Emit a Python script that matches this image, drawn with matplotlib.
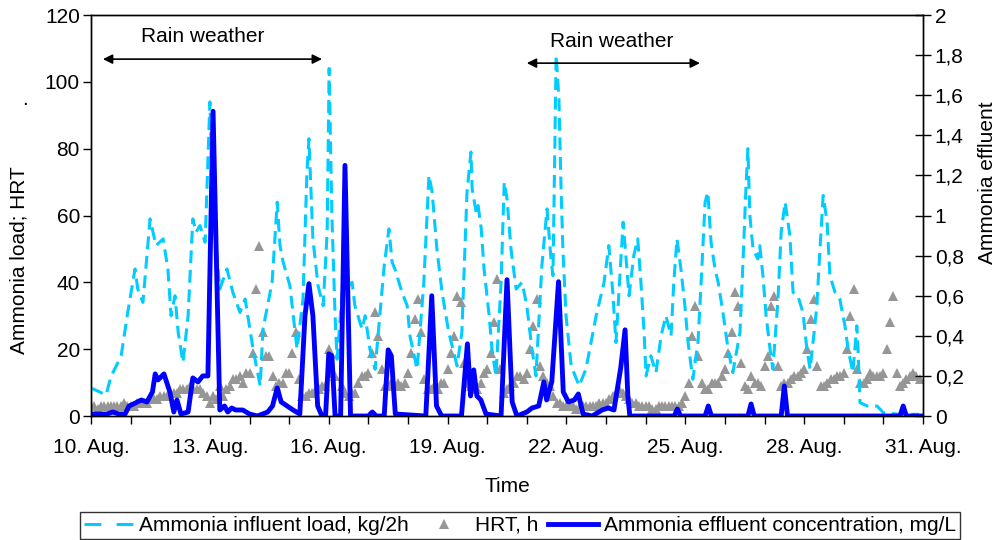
import matplotlib
matplotlib.use("Agg")
import matplotlib.pyplot as plt
from matplotlib.lines import Line2D
from matplotlib.ticker import FuncFormatter, MultipleLocator

plt.rcParams['font.family'] = ['Liberation Sans', 'DejaVu Sans']

# time axis in days after 10 Aug 00:00
tick_days = [0, 3, 6, 9, 12, 15, 18, 21]
tick_labels = ['10. Aug.', '13. Aug.', '16. Aug.', '19. Aug.',
               '22. Aug.', '25. Aug.', '28. Aug.', '31. Aug.']

# ammonia influent load, kg/2h
load_day = [0.0, 0.38, 0.5, 0.76, 0.94, 1.11, 1.18, 1.31, 1.49, 1.64, 1.82, 1.94,
            2.02, 2.12, 2.2, 2.32, 2.45, 2.57, 2.65, 2.75, 2.88, 3.0, 3.08, 3.25,
            3.43, 3.58, 3.76, 3.89, 4.09, 4.27, 4.34, 4.57, 4.7, 4.77, 4.85, 5.02,
            5.2, 5.35, 5.45, 5.5, 5.6, 5.73, 5.86, 5.96, 6.01, 6.08, 6.16, 6.21,
            6.34, 6.59, 6.66, 6.84, 6.92, 7.04, 7.17, 7.4, 7.52, 7.6, 7.67, 7.85,
            7.98, 8.05, 8.23, 8.4, 8.53, 8.61, 8.73, 8.86, 9.03, 9.24, 9.36, 9.49,
            9.59, 9.62, 9.72, 9.77, 9.85, 9.92, 10.05, 10.12, 10.22, 10.35, 10.43, 10.5,
            10.6, 10.73, 10.88, 11.0, 11.13, 11.23, 11.38, 11.51, 11.61, 11.66, 11.74, 11.81,
            11.86, 11.91, 11.99, 12.12, 12.32, 12.49, 12.75, 12.95, 13.07, 13.17, 13.25, 13.33,
            13.43, 13.5, 13.58, 13.7, 13.8, 13.88, 13.96, 14.01, 14.13, 14.26, 14.39, 14.51,
            14.64, 14.71, 14.79, 14.89, 14.99, 15.07, 15.19, 15.32, 15.4, 15.5, 15.57, 15.65,
            15.75, 15.83, 15.95, 16.08, 16.2, 16.38, 16.46, 16.53, 16.58, 16.63, 16.71, 16.83,
            16.88, 16.96, 17.04, 17.14, 17.21, 17.34, 17.42, 17.52, 17.64, 17.72, 17.84, 17.97,
            18.07, 18.15, 18.27, 18.32, 18.4, 18.48, 18.58, 18.65, 18.78, 18.9, 19.03, 19.11,
            19.23, 19.33, 19.36, 19.41, 19.59, 19.84, 20.0, 20.4, 20.9]
load_val = [8.4, 6.3, 11.7, 18, 32, 44, 38, 34, 59, 51, 53, 44,
            30, 36, 25, 16, 30, 59, 55, 57, 52, 94, 61, 38,
            44, 37, 31, 35, 20, 9, 26, 40, 64, 51, 46, 39,
            20, 35, 73, 83, 53, 39, 33, 55, 104, 60, 30, 17,
            37, 40, 33, 26, 30, 20, 14, 45, 56, 46, 44, 37,
            33, 24, 14, 40, 72, 67, 50, 37, 25, 15, 25, 67,
            79, 68, 61, 63, 56, 44, 30, 20, 12, 40, 70, 65,
            50, 38, 40, 33, 20, 12, 45, 62, 47, 42, 108, 95,
            70, 50, 30, 15, 9, 14, 30, 40, 51, 37, 22, 38,
            58, 48, 36, 48, 53, 40, 25, 12, 18, 13, 24, 30,
            24, 40, 53, 44, 33, 22, 11, 22, 40, 64, 67, 52,
            44, 40, 31, 20, 13, 25, 47, 68, 80, 60, 50, 47,
            51, 42, 30, 20, 14, 35, 55, 64, 54, 37, 36, 31,
            20, 14, 27, 33, 50, 66, 58, 42, 37, 35, 27, 20,
            13, 27, 20, 4, 3, 3, 1, 0.5, 0.5]

# HRT, h -- one row per day, 2-hourly values
hrt_rows = [
    [3, 3, 2, 3, 3, 3, 3, 3, 3, 3, 4, 3],
    [3, 3, 4, 4, 4, 4, 5, 5, 5, 6, 6, 6],
    [6, 7, 7, 8, 8, 8, 9, 8, 8, 8, 7, 6],
    [4, 6, 5, 9, 6, 8, 9, 11, 11, 12, 10, 13],
    [13, 19, 38, 51, 25, 18, 18, 12, 9, 10, 10, 13],
    [13, 19, 25, 11, 6, 6, 7, 7, 8, 8, 9, 9],
    [20, 13, 12, 19, 9, 7, 6, 7, 7, 10, 12, 12],
    [13, 19, 31, 24, 14, 9, 9, 10, 9, 10, 9, 10],
    [13, 19, 29, 35, 25, 11, 8, 8, 9, 8, 10, 10],
    [14, 19, 24, 36, 34, 16, 10, 9, 8, 8, 10, 13],
    [14, 19, 28, 41, 14, 7, 8, 9, 10, 12, 12, 11],
    [13, 20, 27, 35, 15, 12, 10, 9, 6, 4, 4, 3],
    [3, 3, 3, 2, 3, 3, 3, 3, 3, 3, 4, 4],
    [4, 5, 6, 7, 8, 7, 6, 5, 4, 4, 3, 3],
    [3, 3, 2, 2, 3, 3, 3, 3, 3, 3, 3, 4],
    [6, 10, 24, 33, 18, 10, 8, 8, 10, 10, 10, 12],
    [14, 19, 25, 37, 33, 16, 9, 8, 12, 10, 10, 9],
    [15, 18, 33, 36, 15, 9, 10, 10, 11, 12, 12, 13],
    [14, 20, 29, 35, 15, 9, 9, 10, 11, 11, 12, 12],
    [13, 20, 30, 38, 14, 10, 10, 11, 13, 12, 12, 12],
    [13, 20, 28, 36, 13, 9, 10, 11, 12, 13, 12, 11],
]

# ammonia effluent concentration, mg/L
eff_day = [0, 0.4, 0.55, 0.7, 0.86, 0.96, 1.07, 1.27, 1.41, 1.55, 1.62, 1.69,
           1.84, 1.99, 2.09, 2.17, 2.27, 2.45, 2.57, 2.7, 2.82, 2.95, 3.08, 3.25,
           3.37, 3.45, 3.55, 3.65, 3.83, 4.0, 4.2, 4.46, 4.58, 4.7, 4.8, 4.95,
           5.1, 5.27, 5.4, 5.5, 5.6, 5.72, 5.83, 5.92, 6.0, 6.08, 6.16, 6.3,
           6.41, 6.55, 7.0, 7.1, 7.2, 7.4, 7.5, 7.58, 7.68, 8.45, 8.6, 8.72,
           8.85, 9.35, 9.5, 9.58, 9.66, 9.74, 9.84, 9.97, 10.35, 10.5, 10.63, 10.75,
           11.0, 11.13, 11.3, 11.43, 11.5, 11.63, 11.8, 11.92, 12.05, 12.2, 12.3, 12.42,
           12.65, 12.9, 13.05, 13.2, 13.37, 13.48, 13.55, 13.6, 14.72, 14.8, 14.88, 15.5,
           15.58, 15.66, 16.58, 16.66, 16.74, 17.42, 17.5, 17.58, 20.42, 20.5, 20.58, 21.0]
eff_val = [0.01, 0.01, 0.02, 0.01, 0.01, 0.05, 0.06, 0.08, 0.07, 0.12, 0.21, 0.18,
           0.21, 0.12, 0.02, 0.08, 0.01, 0.02, 0.19, 0.17, 0.2, 0.2, 1.52, 0.03,
           0.05, 0.02, 0.04, 0.03, 0.03, 0.01, 0.0, 0.02, 0.05, 0.14, 0.07, 0.05,
           0.03, 0.01, 0.5, 0.66, 0.5, 0.05, 0.0, 0.0, 0.31, 0.3, 0.0, 0.0,
           1.25, 0.0, 0.0, 0.02, 0.0, 0.0, 0.33, 0.3, 0.01, 0.0, 0.6, 0.05,
           0.0, 0.0, 0.36, 0.1, 0.23, 0.1, 0.08, 0.01, 0.0, 0.68, 0.07, 0.0,
           0.02, 0.04, 0.05, 0.17, 0.08, 0.17, 0.67, 0.12, 0.07, 0.08, 0.11, 0.01,
           0.0, 0.03, 0.04, 0.03, 0.24, 0.43, 0.1, 0.0, 0.0, 0.035, 0.0, 0.0,
           0.05, 0.0, 0.0, 0.06, 0.0, 0.0, 0.15, 0.0, 0.0, 0.05, 0.0, 0.0]

# rain periods: arrow start/end day, arrow level, label day, label level
rain_periods = [
    (0.3, 5.83, 106.8, 2.83, 113.5),
    (11.0, 15.37, 105.6, 13.15, 112.0),
]

CYAN = '#00CCFF'
GRAY = '#969696'
BLUE = '#0000FF'
FS = 15

hrt_vals = [v for row in hrt_rows for v in row]
hrt_day = [i / 12 for i in range(len(hrt_vals))]

fig = plt.figure(figsize=(9.96, 5.4), dpi=100)
ax = fig.add_axes([0.0914, 0.2296, 0.8353, 0.7426])
ax2 = ax.twinx()

ax.plot(hrt_day, hrt_vals, linestyle='none', marker='^', markersize=7,
        color=GRAY, markeredgewidth=0, zorder=2)
ax.plot(load_day, load_val, color=CYAN, linewidth=2.2, dashes=(4.2, 2.2), zorder=3)
ax2.plot(eff_day, eff_val, color=BLUE, linewidth=3.5, solid_joinstyle='round')

ax.set_xlim(0, 21)
ax.set_ylim(0, 120)
ax2.set_ylim(0, 2)

ax.set_xticks(tick_days)
ax.set_xticklabels(tick_labels)
ax.xaxis.set_minor_locator(MultipleLocator(1))
ax.yaxis.set_major_locator(MultipleLocator(20))
ax2.yaxis.set_major_locator(MultipleLocator(0.2))
ax2.yaxis.set_major_formatter(FuncFormatter(lambda v, p: f'{v:g}'.replace('.', ',')))

ax.tick_params(axis='x', which='both', direction='out', length=6, width=1,
               labelsize=FS, pad=10)
ax.tick_params(axis='y', direction='out', length=6, width=1, labelsize=FS, pad=2)
ax2.tick_params(axis='y', direction='inout', length=11, width=1, labelsize=FS, pad=3)
for a in (ax, ax2):
    for s in a.spines.values():
        s.set_linewidth(1)

ax.set_xlabel('Time', fontsize=FS, labelpad=14)
ax.text(-0.086, 0.389, 'Ammonia load; HRT', transform=ax.transAxes,
        rotation=90, ha='center', va='center', fontsize=FS)
fig.text(0.025, 0.815, '.', fontsize=FS, ha='center', va='center')
ax2.text(1.077, 0.581, 'Ammonia effluent', transform=ax.transAxes,
         rotation=90, ha='center', va='center', fontsize=FS)

for start, end, level, text_day, text_level in rain_periods:
    ax.annotate('', xy=(start, level), xytext=(end, level),
                arrowprops=dict(arrowstyle='<|-|>', color='black', lw=1.2,
                                mutation_scale=14, shrinkA=0, shrinkB=0))
    ax.text(text_day, text_level, 'Rain weather', ha='center',
            va='center', fontsize=FS)

handles = [
    Line2D([], [], color=CYAN, linewidth=2.2, dashes=(5.5, 5.0)),
    Line2D([], [], linestyle='none', marker='^', markersize=7, color=GRAY,
           markeredgewidth=0),
    Line2D([], [], color=BLUE, linewidth=3.5),
]
labels = ['Ammonia influent load, kg/2h', 'HRT, h',
          'Ammonia effluent concentration, mg/L']
leg = fig.legend(handles, labels, loc='lower center', bbox_to_anchor=(0.522, 0.0),
                 ncol=3, fontsize=FS, frameon=True, fancybox=False,
                 edgecolor='black', handlelength=2.4, handletextpad=0.25,
                 columnspacing=0.5, borderpad=0.2, borderaxespad=0.05)
leg.get_frame().set_linewidth(1)

fig.savefig('out.png', dpi=100)
